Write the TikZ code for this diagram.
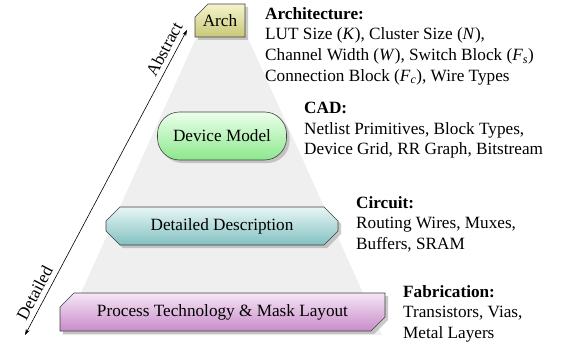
\documentclass[tikz,border=0pt]{standalone}
\usepackage{fontspec}
\setmainfont{Liberation Serif}
\usetikzlibrary{shapes.misc,shadows,arrows.meta}
\newcommand{\vr}[1]{\textit{#1}}
\newcommand{\vsub}[2]{\textit{#1}\textsubscript{\textit{#2}}}
\definecolor{pyrgrey}{HTML}{EFEFEF}
\tikzset{
  every node/.style={font=\fontsize{17.2}{20.7}\selectfont},
  levelbox/.style={draw=black!75, line width=0.6pt, minimum height=36pt,
    inner sep=0pt,
    drop shadow={shadow xshift=3pt, shadow yshift=-3pt, fill=black!35, opacity=0.6}},
  infotext/.style={anchor=north west, align=left, inner sep=0pt},
}
\begin{document}
\begin{tikzpicture}[x=1pt,y=-1pt]
\useasboundingbox (0,0) rectangle (562,345);
% abstraction pyramid in the background
\fill[pyrgrey] (197,36) -- (247,36) -- (382,335) -- (62,335) -- cycle;

% levels of the stack
\node[levelbox, chamfered rectangle, chamfered rectangle corners=north west,
  chamfered rectangle xsep=7pt, chamfered rectangle ysep=7pt,
  top color={rgb,255:red,244;green,244;blue,204}, bottom color={rgb,255:red,200;green,200;blue,120},
  minimum width=50pt, minimum height=33pt] (arch) at (220,20.5) {Arch};
\node[levelbox, rectangle, rounded corners=22pt,
  top color={rgb,255:red,236;green,255;blue,236}, bottom color={rgb,255:red,140;green,232;blue,140},
  minimum width=129pt, minimum height=48pt] (dev) at (222,136) {Device Model};
\node[levelbox, chamfered rectangle, chamfered rectangle xsep=7pt, chamfered rectangle ysep=7pt,
  top color={rgb,255:red,232;green,246;blue,246}, bottom color={rgb,255:red,130;green,192;blue,192},
  minimum width=232pt, minimum height=38pt] (desc) at (222,226) {Detailed Description};
\node[levelbox, chamfered rectangle, chamfered rectangle corners={north west,south east},
  chamfered rectangle xsep=7pt, chamfered rectangle ysep=7pt,
  top color={rgb,255:red,246;green,230;blue,246}, bottom color={rgb,255:red,200;green,140;blue,200},
  minimum width=325pt, minimum height=38pt] (proc) at (222.5,312) {Process Technology \& Mask Layout};

% abstraction axis
\coordinate (detailEnd) at (25,335);
\coordinate (abstrEnd) at (187,30);
\draw[{Stealth[length=6pt,width=4pt]}-{Stealth[length=6pt,width=4pt]}, line width=0.6pt]
  (detailEnd) -- node[pos=0.12, sloped, above=1.5pt] {Detailed}
                 node[pos=0.92, sloped, above=1.5pt] {Abstract} (abstrEnd);

% descriptions of each level
\node[infotext] (archtxt) at (265,7) {\textbf{Architecture:}\\
  LUT Size (\vr{K}), Cluster Size (\vr{N}),\\
  Channel Width (\vr{W}), Switch Block (\vsub{F}{s})\\
  Connection Block (\vsub{F}{c}), Wire Types};
\node[infotext] (cadtxt) at (304,102) {\textbf{CAD:}\\
  Netlist Primitives, Block Types,\\
  Device Grid, RR Graph, Bitstream};
\node[infotext] (circtxt) at (356,196) {\textbf{Circuit:}\\
  Routing Wires, Muxes,\\
  Buffers, SRAM};
\node[infotext] (fabtxt) at (403,285) {\textbf{Fabrication:}\\
  Transistors, Vias,\\
  Metal Layers};
\end{tikzpicture}
\end{document}
